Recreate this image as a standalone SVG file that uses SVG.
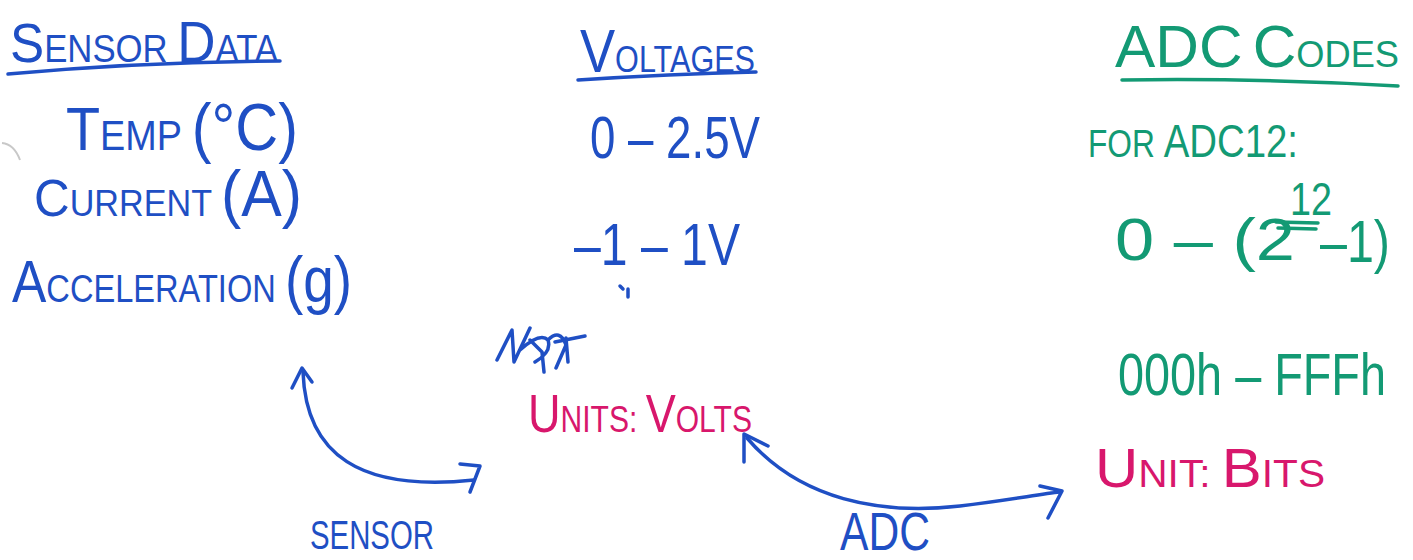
<svg xmlns="http://www.w3.org/2000/svg" width="1413" height="560" viewBox="0 0 1413 560">
<style>
text{font-family:"Liberation Sans","DejaVu Sans",sans-serif;}
.b{fill:#1f4fc4;}
.g{fill:#139a74;}
.m{fill:#d8176c;}
.sb{stroke:#1f4fc4;fill:none;stroke-width:3.5;stroke-linecap:round;stroke-linejoin:round;}
.sg{stroke:#139a74;fill:none;stroke-width:3.5;stroke-linecap:round;stroke-linejoin:round;}
</style>
<rect width="1413" height="560" fill="#ffffff"/>
<path d="M2 143 Q14 144 20 160" stroke="#c8c8c8" stroke-width="2" fill="none"/>

<g id="sensor-data">
<text class="b" x="10" y="62" textLength="268" lengthAdjust="spacingAndGlyphs"><tspan font-size="56">S</tspan><tspan font-size="38">ENSOR </tspan><tspan font-size="58">D</tspan><tspan font-size="38">ATA</tspan></text>
<path class="sb" d="M8 74 Q140 62 280 61"/>
<text class="b" x="66" y="150" textLength="232" lengthAdjust="spacingAndGlyphs"><tspan font-size="62">T</tspan><tspan font-size="42">EMP </tspan><tspan font-size="66">(°C)</tspan></text>
<text class="b" x="34" y="216" textLength="268" lengthAdjust="spacingAndGlyphs"><tspan font-size="52">C</tspan><tspan font-size="36">URRENT </tspan><tspan font-size="64">(A)</tspan></text>
<text class="b" x="12" y="302" textLength="340" lengthAdjust="spacingAndGlyphs"><tspan font-size="60">A</tspan><tspan font-size="38">CCELERATION </tspan><tspan font-size="64">(g)</tspan></text>
</g>

<g id="voltages">
<text class="b" x="580" y="72" textLength="175" lengthAdjust="spacingAndGlyphs"><tspan font-size="62">V</tspan><tspan font-size="36">OLTAGES</tspan></text>
<path class="sb" d="M578 80 Q670 74 756 72"/>
<text class="b" font-size="60" x="590" y="158" textLength="170" lengthAdjust="spacingAndGlyphs">0 – 2.5V</text>
<text class="b" font-size="60" x="574" y="265" textLength="166" lengthAdjust="spacingAndGlyphs">–1 – 1V</text>
<path class="sb" d="M620 286 l3 3 M628 289 l0 8" stroke-width="2"/>
<path class="sb" d="M497 360 L512 330 L514 362 L530 328 M520 350 Q540 332 548 340 Q552 352 535 362 M530 340 L542 352 L544 372 M548 340 Q560 328 566 345 L556 368 M555 342 L585 336 M566 338 L568 362" stroke-width="5"/>
<text class="m" x="528" y="432" textLength="224" lengthAdjust="spacingAndGlyphs"><tspan font-size="54">U</tspan><tspan font-size="36">NITS: </tspan><tspan font-size="54">V</tspan><tspan font-size="36">OLTS</tspan></text>
</g>

<g id="adc-codes">
<text class="g" x="1115" y="67" textLength="284" lengthAdjust="spacingAndGlyphs"><tspan font-size="60">ADC</tspan><tspan font-size="36"> </tspan><tspan font-size="60">C</tspan><tspan font-size="36">ODES</tspan></text>
<path class="sg" d="M1122 80 Q1260 78 1398 86"/>
<text class="g" x="1088" y="157" textLength="210" lengthAdjust="spacingAndGlyphs"><tspan font-size="38">FOR </tspan><tspan font-size="46">ADC12:</tspan></text>
<text class="g" font-size="60" x="1115" y="260" textLength="180" lengthAdjust="spacingAndGlyphs">0 – (2</text>
<text class="g" font-size="46" x="1290" y="215" textLength="42" lengthAdjust="spacingAndGlyphs">12</text>
<path class="sg" d="M1276 222 L1318 223 M1278 228 L1316 229" stroke-width="5"/>
<text class="g" font-size="60" x="1320" y="262" textLength="70" lengthAdjust="spacingAndGlyphs">–1)</text>
<text class="g" font-size="60" x="1118" y="395" textLength="268" lengthAdjust="spacingAndGlyphs">000h – FFFh</text>
<text class="m" x="1095" y="487" textLength="230" lengthAdjust="spacingAndGlyphs"><tspan font-size="56">U</tspan><tspan font-size="38">NIT: </tspan><tspan font-size="56">B</tspan><tspan font-size="38">ITS</tspan></text>
</g>

<g id="connectors">
<path class="sb" d="M303 372 C306 455 360 492 474 480"/>
<path class="sb" d="M292 388 L302 368 L312 382"/>
<path class="sb" d="M460 464 L480 466 L470 492"/>
<path class="sb" d="M747 438 C800 500 880 515 960 506 C1010 500 1040 494 1060 492"/>
<path class="sb" d="M744 462 L744 434 L768 446"/>
<path class="sb" d="M1040 486 L1062 491 L1048 518"/>
</g>

<g id="labels">
<text class="b" font-size="40" x="310" y="549" textLength="124" lengthAdjust="spacingAndGlyphs">SENSOR</text>
<text class="b" font-size="54" x="840" y="550" textLength="90" lengthAdjust="spacingAndGlyphs">ADC</text>
</g>
</svg>
